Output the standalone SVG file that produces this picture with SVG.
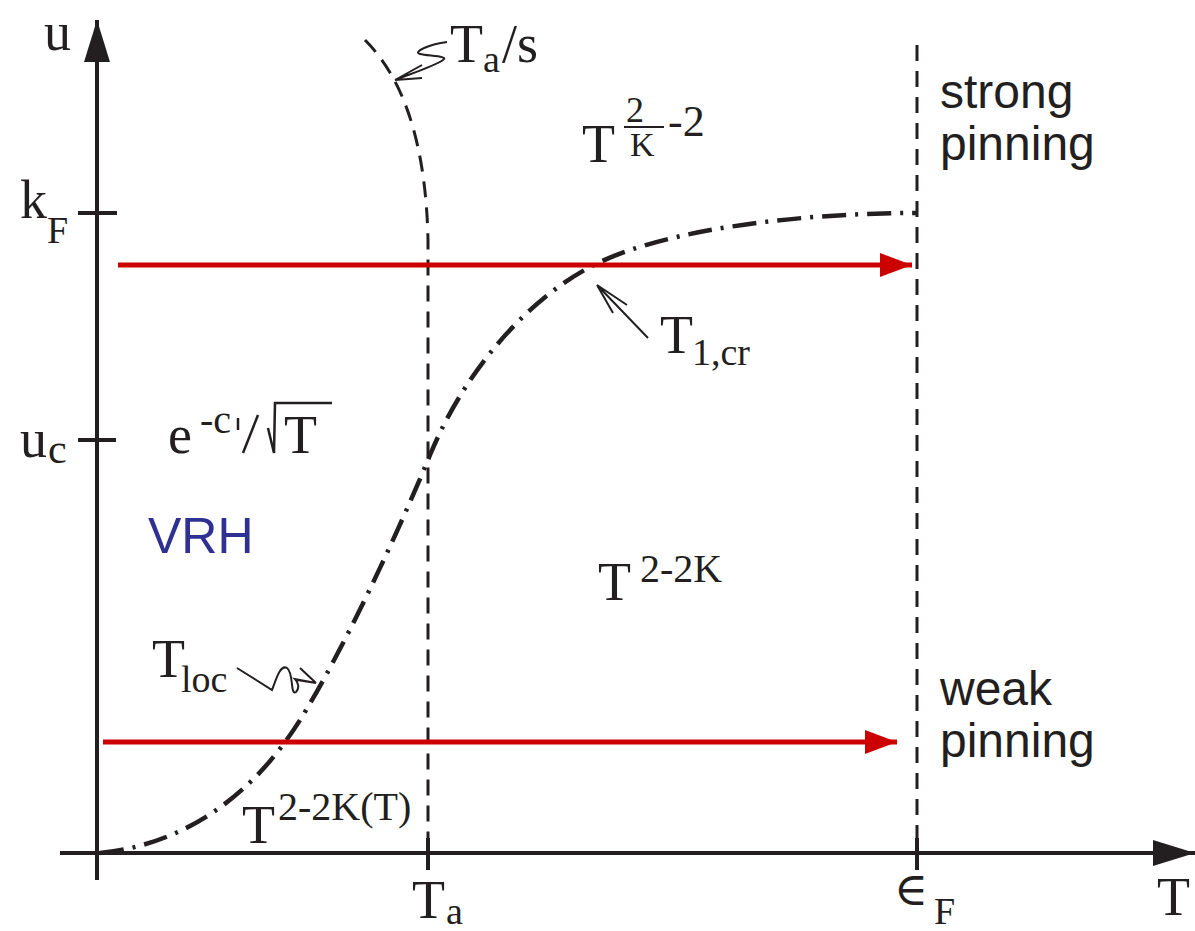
<svg xmlns="http://www.w3.org/2000/svg" width="1195" height="931" viewBox="0 0 1195 931">
<style>
.ax{stroke:#231f20;stroke-width:4;fill:none}
.dash{stroke:#231f20;stroke-width:3;fill:none;stroke-dasharray:16,10}
.dd{stroke:#231f20;stroke-width:4.5;fill:none;stroke-dasharray:24,9,3,9}
.red{stroke:#cc0000;stroke-width:5;fill:none}
.thin{stroke:#231f20;stroke-width:2;fill:none}
.s{font-family:"Liberation Serif","Times New Roman",serif;fill:#231f20}
.ss{font-family:"Liberation Sans",Arial,sans-serif;fill:#231f20}
</style>
<defs>
<marker id="ah" markerUnits="userSpaceOnUse" markerWidth="44" markerHeight="30" refX="42" refY="15" orient="auto">
<polygon points="0,2 42,15 0,28" fill="#231f20"/>
</marker>
<marker id="rh" markerUnits="userSpaceOnUse" markerWidth="34" markerHeight="26" refX="32" refY="13" orient="auto">
<polygon points="0,1 32,13 0,25" fill="#cc0000"/>
</marker>
</defs>
<g id="connectors">
<line class="ax" x1="97" y1="880" x2="97" y2="20" marker-end="url(#ah)"/>
<line class="ax" x1="60" y1="853" x2="1195" y2="853" marker-end="url(#ah)"/>
<line class="ax" x1="78" y1="213" x2="117" y2="213"/>
<line class="ax" x1="78" y1="440" x2="116" y2="440"/>
<line class="ax" x1="428" y1="838" x2="428" y2="870"/>
<line class="ax" x1="917" y1="838" x2="917" y2="870"/>
<path class="dash" d="M365,40 Q425,100 428,240 L428,853"/>
<line class="dash" x1="917" y1="45" x2="917" y2="853"/>
<path class="dd" d="M100,853 C180,845 250,800 300,720 C340,656 395,540 430,455 C465,370 530,295 600,262 C670,229 800,213 917,213"/>
<line class="red" x1="118" y1="265" x2="912" y2="265" marker-end="url(#rh)"/>
<line class="red" x1="103" y1="742" x2="897" y2="742" marker-end="url(#rh)"/>
<path class="thin" d="M447,42 C430,44 412,52 420,54 C428,56 450,56 443,60 C435,66 410,74 395,80 M395,80 L422,65 M395,80 L422,78"/>
<path class="thin" d="M648,338 L597,285 M597,285 L627,305 M597,285 L613,313"/>
<path class="thin" d="M237,668 L272,690 C276,680 280,664 287,668 C294,673 290,696 296,692 C300,688 298,682 295,679 L316,683 M316,683 L300,668 M316,683 L297,680"/>
</g>
<g id="label-u"><text class="s" x="44" y="50" font-size="54">u</text></g>
<g id="label-kF"><text class="s" x="20" y="218" font-size="54">k</text><text class="s" x="47" y="243" font-size="38">F</text></g>
<g id="label-uc"><text class="s" x="20" y="457" font-size="54">u</text><text class="s" x="48" y="463" font-size="42">c</text></g>
<g id="label-Ta-s"><text class="s" x="450" y="62" font-size="54">T</text><text class="s" x="483" y="72" font-size="38">a</text><text class="s" x="502" y="62" font-size="54">/s</text></g>
<g id="label-T-2K"><text class="s" x="582" y="162" font-size="54">T</text><text class="s" x="626" y="122" font-size="36">2</text><line x1="624" y1="127" x2="664" y2="127" stroke="#231f20" stroke-width="2"/><text class="s" x="630" y="156" font-size="34">K</text><text class="s" x="668" y="136" font-size="44">-2</text></g>
<g id="label-strong"><text class="ss" x="940" y="108" font-size="48">strong</text><text class="ss" x="940" y="160" font-size="48">pinning</text></g>
<g id="label-T1cr"><text class="s" x="660" y="353" font-size="54">T</text><text class="s" x="692" y="365" font-size="38">1,cr</text></g>
<g id="label-exp"><text class="s" x="168" y="453" font-size="54">e</text><text class="s" x="200" y="433" font-size="40">-c</text><line x1="238" y1="418" x2="238" y2="430" stroke="#231f20" stroke-width="2.5"/><line x1="243" y1="453" x2="258" y2="415" stroke="#231f20" stroke-width="2.5"/><path d="M268,428 L274,453 L275,403 L332,403" fill="none" stroke="#231f20" stroke-width="2.5"/><text class="s" x="284" y="453" font-size="54">T</text></g>
<g id="label-VRH"><text x="148" y="553" font-size="50" font-family="'Liberation Sans',Arial,sans-serif" fill="#2e3192">VRH</text></g>
<g id="label-T22K"><text class="s" x="598" y="600" font-size="54">T</text><text class="s" x="640" y="582" font-size="40">2-2K</text></g>
<g id="label-Tloc"><text class="s" x="152" y="677" font-size="54">T</text><text class="s" x="181" y="692" font-size="38">loc</text></g>
<g id="label-weak"><text class="ss" x="940" y="705" font-size="48">weak</text><text class="ss" x="940" y="757" font-size="48">pinning</text></g>
<g id="label-T22KT"><text class="s" x="242" y="843" font-size="54">T</text><text class="s" x="278" y="820" font-size="40">2-2K(T)</text></g>
<g id="label-Ta"><text class="s" x="412" y="918" font-size="54">T</text><text class="s" x="446" y="924" font-size="38">a</text></g>
<g id="label-eF"><text x="894" y="905" font-size="46" font-family="'DejaVu Serif',serif" fill="#231f20">∈</text><text class="s" x="934" y="924" font-size="38">F</text></g>
<g id="label-T"><text class="s" x="1157" y="915" font-size="54">T</text></g>
</svg>
